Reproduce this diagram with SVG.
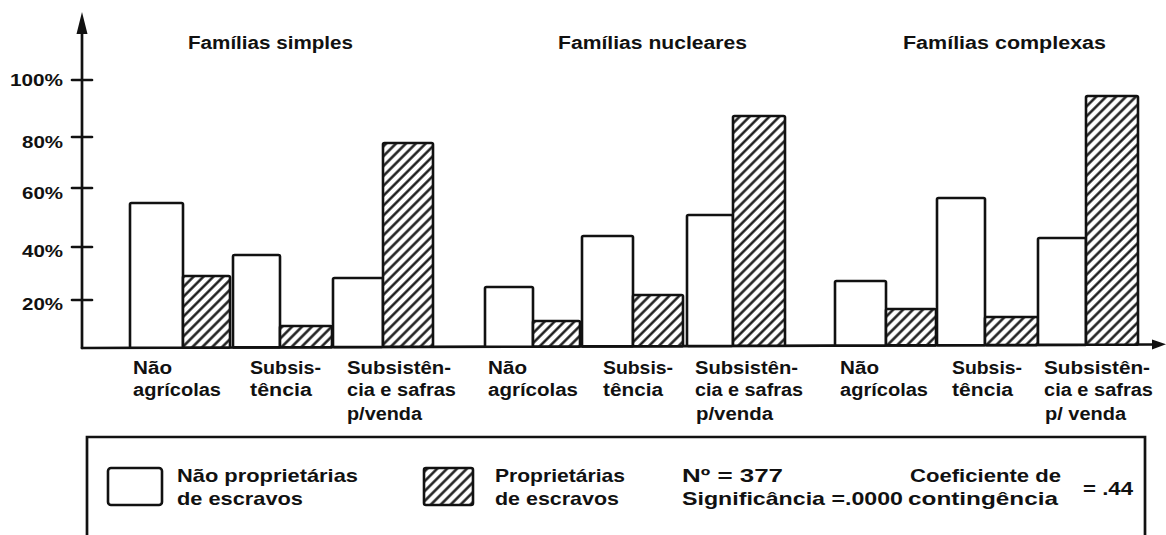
<svg xmlns="http://www.w3.org/2000/svg" width="1166" height="535" viewBox="0 0 1166 535">
<style>
.ax{stroke:#111;stroke-width:2.7;fill:none;stroke-linecap:round}
.w{fill:#fff;stroke:#111;stroke-width:2.6;stroke-linejoin:round}
.h{fill:url(#hatch);stroke:#111;stroke-width:2.6;stroke-linejoin:round}
.t{font-family:"Liberation Sans",Arial,sans-serif;font-weight:bold;fill:#111;font-size:18px}
.k{font-family:"Liberation Sans",Arial,sans-serif;font-weight:bold;fill:#111;font-size:17px}
.lg{font-family:"Liberation Sans",Arial,sans-serif;font-weight:bold;fill:#111;font-size:19px}
</style>
<defs>
<pattern id="hatch" patternUnits="userSpaceOnUse" width="7" height="7" patternTransform="rotate(45)">
<rect width="7" height="7" fill="#fff"/>
<line x1="3.5" y1="-1" x2="3.5" y2="8" stroke="#111" stroke-width="2.4"/>
</pattern>
</defs>
<rect width="1166" height="535" fill="#fff"/>

<g id="axes">
<line class="ax" x1="82" y1="348" x2="82" y2="30"/>
<polygon points="82,12 76.5,34 87.5,34" fill="#111"/>
<line class="ax" x1="82" y1="348" x2="1155" y2="344.5"/>
<polygon points="1166,344.3 1152,339.5 1152,349.5" fill="#111"/>
<line class="ax" x1="72" y1="80" x2="92" y2="80"/>
<line class="ax" x1="72" y1="137" x2="92" y2="137"/>
<line class="ax" x1="72" y1="188" x2="92" y2="188"/>
<line class="ax" x1="72" y1="247" x2="92" y2="247"/>
<line class="ax" x1="72" y1="300" x2="92" y2="300"/>
</g>

<g id="tick-labels" class="k">
<text x="10" y="86" textLength="53" lengthAdjust="spacingAndGlyphs">100%</text>
<text x="22" y="148" textLength="41" lengthAdjust="spacingAndGlyphs">80%</text>
<text x="22" y="199" textLength="41" lengthAdjust="spacingAndGlyphs">60%</text>
<text x="22" y="257" textLength="41" lengthAdjust="spacingAndGlyphs">40%</text>
<text x="22" y="310" textLength="41" lengthAdjust="spacingAndGlyphs">20%</text>
</g>

<g id="titles" class="t">
<text x="188" y="49" textLength="165" lengthAdjust="spacingAndGlyphs">Famílias simples</text>
<text x="558" y="49" textLength="189" lengthAdjust="spacingAndGlyphs">Famílias nucleares</text>
<text x="903" y="49" textLength="203" lengthAdjust="spacingAndGlyphs">Famílias complexas</text>
</g>

<g id="simples-bars">
<rect class="w" x="130" y="203" width="53" height="144.8" rx="1.5"/>
<rect class="h" x="183" y="276" width="47" height="71.6" rx="1.5"/>
<rect class="w" x="233" y="255" width="47" height="92.4" rx="1.5"/>
<rect class="h" x="280" y="326" width="52" height="21.3" rx="1.5"/>
<rect class="w" x="333" y="278" width="50" height="69" rx="1.5"/>
<rect class="h" x="383" y="143" width="50" height="203.8" rx="1.5"/>
</g>
<g id="nucleares-bars">
<rect class="w" x="485" y="287" width="48" height="59.8" rx="1.5"/>
<rect class="h" x="533" y="321" width="47" height="25.6" rx="1.5"/>
<rect class="w" x="582" y="236" width="51" height="110.4" rx="1.5"/>
<rect class="h" x="633" y="295" width="50" height="51.3" rx="1.5"/>
<rect class="w" x="687" y="215" width="46" height="131" rx="1.5"/>
<rect class="h" x="733" y="116" width="52" height="229.8" rx="1.5"/>
</g>
<g id="complexas-bars">
<rect class="w" x="835" y="281" width="51" height="64.6" rx="1.5"/>
<rect class="h" x="886" y="309" width="50" height="36.4" rx="1.5"/>
<rect class="w" x="937" y="198" width="48" height="147.2" rx="1.5"/>
<rect class="h" x="985" y="317" width="53" height="28.1" rx="1.5"/>
<rect class="w" x="1038" y="238" width="48" height="106.9" rx="1.5"/>
<rect class="h" x="1086" y="96" width="52" height="248.7" rx="1.5"/>
</g>

<g id="categories" class="t">
<text x="133" y="374" textLength="39" lengthAdjust="spacingAndGlyphs">Não</text>
<text x="133" y="396" textLength="88" lengthAdjust="spacingAndGlyphs">agrícolas</text>
<text x="250" y="374" textLength="71" lengthAdjust="spacingAndGlyphs">Subsis-</text>
<text x="250" y="396" textLength="62" lengthAdjust="spacingAndGlyphs">tência</text>
<text x="347" y="374" textLength="104" lengthAdjust="spacingAndGlyphs">Subsistên-</text>
<text x="347" y="396" textLength="109" lengthAdjust="spacingAndGlyphs">cia e safras</text>
<text x="347" y="420" textLength="75" lengthAdjust="spacingAndGlyphs">p/venda</text>

<text x="488" y="374" textLength="39" lengthAdjust="spacingAndGlyphs">Não</text>
<text x="488" y="396" textLength="90" lengthAdjust="spacingAndGlyphs">agrícolas</text>
<text x="603" y="374" textLength="70" lengthAdjust="spacingAndGlyphs">Subsis-</text>
<text x="603" y="396" textLength="60" lengthAdjust="spacingAndGlyphs">tência</text>
<text x="695" y="374" textLength="103" lengthAdjust="spacingAndGlyphs">Subsistên-</text>
<text x="695" y="396" textLength="108" lengthAdjust="spacingAndGlyphs">cia e safras</text>
<text x="696" y="420" textLength="77" lengthAdjust="spacingAndGlyphs">p/venda</text>

<text x="840" y="374" textLength="39" lengthAdjust="spacingAndGlyphs">Não</text>
<text x="840" y="396" textLength="88" lengthAdjust="spacingAndGlyphs">agrícolas</text>
<text x="952" y="374" textLength="70" lengthAdjust="spacingAndGlyphs">Subsis-</text>
<text x="952" y="396" textLength="61" lengthAdjust="spacingAndGlyphs">tência</text>
<text x="1044" y="374" textLength="106" lengthAdjust="spacingAndGlyphs">Subsistên-</text>
<text x="1044" y="396" textLength="109" lengthAdjust="spacingAndGlyphs">cia e safras</text>
<text x="1045" y="420" textLength="81" lengthAdjust="spacingAndGlyphs">p/ venda</text>
</g>

<g id="legend">
<path class="ax" d="M87,540 V437 H1145 V540"/>
<rect class="w" x="108" y="468" width="54" height="37" rx="3"/>
<rect class="h" x="424" y="468" width="49" height="37" rx="2"/>
<g class="lg">
<text x="177" y="482" textLength="181" lengthAdjust="spacingAndGlyphs">Não proprietárias</text>
<text x="177" y="505" textLength="126" lengthAdjust="spacingAndGlyphs">de escravos</text>
<text x="495" y="482" textLength="130" lengthAdjust="spacingAndGlyphs">Proprietárias</text>
<text x="495" y="505" textLength="124" lengthAdjust="spacingAndGlyphs">de escravos</text>
<text x="682" y="482" textLength="101" lengthAdjust="spacingAndGlyphs">Nº = 377</text>
<text x="682" y="505" textLength="221" lengthAdjust="spacingAndGlyphs">Significância =.0000</text>
<text x="910" y="482" textLength="151" lengthAdjust="spacingAndGlyphs">Coeficiente de</text>
<text x="908" y="505" textLength="150" lengthAdjust="spacingAndGlyphs">contingência</text>
<text x="1083" y="495" textLength="50" lengthAdjust="spacingAndGlyphs">= .44</text>
</g>
</g>
</svg>
